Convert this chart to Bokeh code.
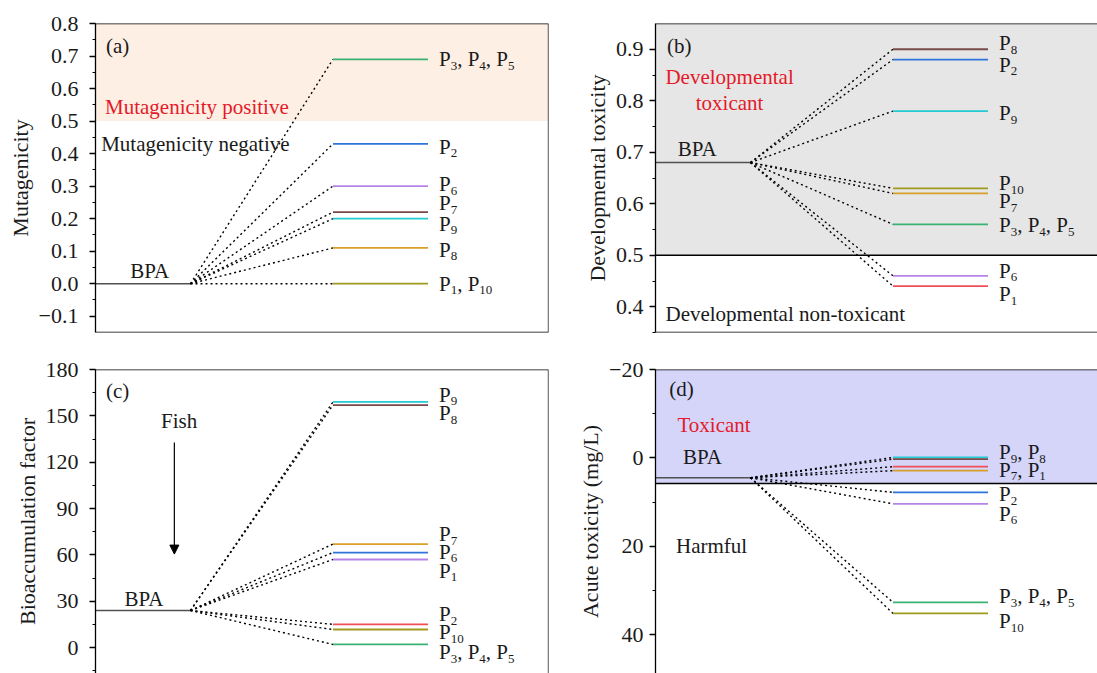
from bokeh.plotting import figure
from bokeh.layouts import column, row
from bokeh.models import (Range1d, SingleIntervalTicker, CustomJSTickFormatter,
                          Span, BoxAnnotation, Arrow, NormalHead)
from bokeh.core.properties import value
from bokeh.embed import file_html
from bokeh.resources import INLINE

FONT = "Liberation Serif"

GREEN = "#3bb273"
BLUE = "#2f74d8"
PURPLE = "#b684e8"
BROWN = "#7a4a48"
CYAN = "#22cbd4"
GOLD = "#d8a02a"
OLIVE = "#a09a1e"
RED = "#ef4f56"
TXT_RED = "#e41a2a"

# ---------------- (a) Mutagenicity ----------------
mut_bpa = 0.0
mut_products = ["P3, P4, P5", "P2", "P6", "P7", "P9", "P8", "P1, P10"]
mut_values = [0.69, 0.43, 0.30, 0.22, 0.20, 0.11, 0.00]
mut_colors = [GREEN, BLUE, PURPLE, BROWN, CYAN, GOLD, OLIVE]
mut_threshold = 0.5

# ---------------- (b) Developmental toxicity ----------------
dev_bpa = 0.68
dev_products = ["P8", "P2", "P9", "P10", "P7", "P3, P4, P5", "P6", "P1"]
dev_values = [0.90, 0.88, 0.78, 0.63, 0.62, 0.56, 0.46, 0.44]
dev_colors = [BROWN, BLUE, CYAN, OLIVE, GOLD, GREEN, PURPLE, RED]
dev_threshold = 0.5

# ---------------- (c) Bioaccumulation factor ----------------
bcf_bpa = 24.0
bcf_products = ["P9", "P8", "P7", "P6", "P1", "P2", "P10", "P3, P4, P5"]
bcf_values = [159, 157, 67, 61.5, 57, 15, 11.7, 2]
bcf_colors = [CYAN, BROWN, GOLD, BLUE, PURPLE, RED, OLIVE, GREEN]

# ---------------- (d) Acute toxicity ----------------
acute_bpa = 4.5
acute_products = ["P9", "P8", "P7", "P1", "P2", "P6", "P3, P4, P5", "P10"]
acute_values = [-0.1, 0.3, 2.0, 2.9, 7.8, 10.4, 32.7, 35.2]
acute_colors = [CYAN, BROWN, RED, GOLD, BLUE, PURPLE, GREEN, OLIVE]
acute_threshold = 5.8
acute_labels = ["P9, P8", "P7, P1", "P2", "P6", "P3, P4, P5", "P10"]
acute_label_of = [0, 2, 4, 5, 6, 7]   # which level each label sits beside

# layout constants (x positions of the level diagram, in diagram units)
BPA_X = (0.0, 1.0)
PROD_X = (2.5, 3.5)
PX_PER_X = 95.0
FS = 21          # annotation / label text size (px)
TICK_FS = 22     # tick label size (px)
TITLE_FS = 22    # axis title size (px)
SUB = 13         # subscript size (px)
SUB_DROP = 6.5   # subscript shift below the main text (px)
LABEL_GAP = 11   # px between level end and its label
EM = {"P": 0.556, ",": 0.25, " ": 0.25}


def minus_formatter(decimals):
    # typographic minus sign for negative tick values
    return CustomJSTickFormatter(code=f"""
        const s = Math.abs(tick).toFixed({decimals});
        return (tick < -1e-9 ? '\\u2212' : '') + s;
    """)


def pieces(label):
    out, buf, sub = [], "", False
    for ch in label:
        d = ch.isdigit()
        if buf and d != sub:
            out.append((buf, sub))
            buf = ""
        buf += ch
        sub = d
    out.append((buf, sub))
    return out


def make_panel(w, h, bl, bt, br, bb, y0, y1, interval, decimals, axis_title,
               label_standoff=5, title_standoff=3):
    fw = w - bl - br
    p = figure(width=w, height=h, title=None,
               x_range=Range1d(0, fw / PX_PER_X), y_range=Range1d(y0, y1),
               output_backend="svg", toolbar_location=None,
               x_axis_location=None, y_axis_location="left",
               min_border_left=bl, min_border_right=br,
               min_border_top=bt, min_border_bottom=bb,
               outline_line_color=None,
               background_fill_color="white", border_fill_color="white")
    p.grid.visible = False
    ax = p.yaxis[0]
    ax.ticker = SingleIntervalTicker(interval=interval, num_minor_ticks=2)
    ax.formatter = minus_formatter(decimals)
    ax.axis_label = axis_title
    ax.axis_label_text_font = FONT
    ax.axis_label_text_font_size = f"{TITLE_FS}px"
    ax.axis_label_text_font_style = "normal"
    ax.axis_label_text_color = "#1a1a1a"
    ax.axis_label_standoff = title_standoff
    ax.major_label_text_font = FONT
    ax.major_label_text_font_size = f"{TICK_FS}px"
    ax.major_label_text_color = "#1a1a1a"
    ax.major_label_standoff = label_standoff
    ax.axis_line_width = 1.3
    ax.major_tick_line_width = 1.3
    ax.minor_tick_line_width = 1.1
    ax.major_tick_out = 6
    ax.major_tick_in = 0
    ax.minor_tick_out = 3
    ax.minor_tick_in = 0
    return p


def border(p, loc, dim):
    p.add_layout(Span(location=loc, dimension=dim, line_color="black", line_width=1.3))


def draw_levels(p, bpa, values, colors, labels, label_of, nudges):
    n = len(values)
    p.segment(x0=[BPA_X[0]], y0=[bpa], x1=[BPA_X[1]], y1=[bpa],
              line_color="#505050", line_width=1.5)
    p.segment(x0=[BPA_X[1]] * n, y0=[bpa] * n, x1=[PROD_X[0]] * n, y1=values,
              line_color="black", line_dash="2 3", line_width=1.4)
    p.segment(x0=[PROD_X[0]] * n, y0=values, x1=[PROD_X[1]] * n, y1=values,
              line_color=colors, line_width=1.8)
    norm = dict(x=[], y=[], text=[], xo=[], yo=[])
    sub = dict(x=[], y=[], text=[], xo=[], yo=[])
    for lab, idx, nd in zip(labels, label_of, nudges):
        off = LABEL_GAP
        for s, is_sub in pieces(lab):
            size = SUB if is_sub else FS
            d = sub if is_sub else norm
            d["x"].append(PROD_X[1])
            d["y"].append(values[idx])
            d["text"].append(s)
            d["xo"].append(off)
            d["yo"].append(nd + (SUB_DROP if is_sub else 0))
            off += sum(0.5 if c.isdigit() else EM.get(c, 0.5) for c in s) * size
    for d, size in ((norm, FS), (sub, SUB)):
        p.text(x="x", y="y", text="text", x_offset="xo", y_offset="yo", source=d,
               text_font=value(FONT), text_font_size=f"{size}px",
               text_baseline="middle", text_align="left", text_color="#1a1a1a")


def note(p, x, y, txt, color="#1a1a1a", align="left"):
    p.text(x=[x], y=[y], text=[txt], text_font=value(FONT), text_font_size=f"{FS}px",
           text_baseline="middle", text_align=align, text_color=color)


# ---- (a)
pa = make_panel(560, 345, 95, 23, 12, 13, -0.15, 0.8, 0.1, 1, "Mutagenicity",
                label_standoff=11)
pa.add_layout(BoxAnnotation(bottom=mut_threshold, top=0.8, fill_color="#fdefe3",
                            fill_alpha=1, line_color=None, level="underlay"))
border(pa, 0.8, "width")
border(pa, -0.15, "width")
border(pa, pa.x_range.end, "height")
draw_levels(pa, mut_bpa, mut_values, mut_colors, mut_products,
            list(range(len(mut_values))), [0, 3, -2, -9, 5, 2, 0])
note(pa, 0.11, 0.731, "(a)")
note(pa, 0.10, 0.542, "Mutagenicity positive", TXT_RED)
note(pa, 0.06, 0.431, "Mutagenicity negative")
note(pa, 0.57, 0.038, "BPA", align="center")

# ---- (b)
pb = make_panel(537, 345, 95, 23, 0, 13, 0.35, 0.95, 0.1, 1, "Developmental toxicity",
                label_standoff=6)
pb.add_layout(BoxAnnotation(bottom=dev_threshold, top=0.95, fill_color="#e6e6e6",
                            fill_alpha=1, line_color=None, level="underlay"))
pb.add_layout(Span(location=dev_threshold, dimension="width", line_color="black",
                   line_width=1.5))
border(pb, 0.95, "width")
border(pb, 0.35, "width")
draw_levels(pb, dev_bpa, dev_values, dev_colors, dev_products,
            list(range(len(dev_values))), [-6, 5, 2, -5, 8, 1, -5, 8])
note(pb, 0.12, 0.906, "(b)")
note(pb, 0.78, 0.847, "Developmental", TXT_RED, "center")
note(pb, 0.78, 0.796, "toxicant", TXT_RED, "center")
note(pb, 0.44, 0.706, "BPA", align="center")
note(pb, 0.105, 0.385, "Developmental non-toxicant")

# ---- (c)
pc = make_panel(560, 328, 95, 24, 12, 0, -16.8, 180, 30, 0, "Bioaccumulation factor",
                label_standoff=11)
border(pc, 180, "width")
border(pc, pc.x_range.end, "height")
draw_levels(pc, bcf_bpa, bcf_values, bcf_colors, bcf_products,
            list(range(len(bcf_values))), [-7, 8, -10, -1, 11, -10, 3, 8])
note(pc, 0.11, 166, "(c)")
note(pc, 0.88, 146.8, "Fish", align="center")
pc.add_layout(Arrow(end=NormalHead(size=9, fill_color="black", line_color="black"),
                    x_start=0.83, y_start=132.7, x_end=0.83, y_end=60.5,
                    line_color="black", line_width=1.2))
note(pc, 0.51, 31.6, "BPA", align="center")

# ---- (d)
pd = make_panel(537, 328, 95, 24, 0, 0, 48.8, -20, 20, 0, "Acute toxicity (mg/L)",
                label_standoff=6)
pd.add_layout(BoxAnnotation(bottom=acute_threshold, top=-20, fill_color="#d5d5fa",
                            fill_alpha=1, line_color=None, level="underlay"))
pd.add_layout(Span(location=acute_threshold, dimension="width", line_color="black",
                   line_width=1.5))
border(pd, -20, "width")
draw_levels(pd, acute_bpa, acute_values, acute_colors, acute_labels,
            acute_label_of, [-5, 3, 2, 10, -6, 8])
note(pd, 0.145, -15.6, "(d)")
note(pd, 0.616, -7.5, "Toxicant", TXT_RED, "center")
note(pd, 0.495, -0.15, "BPA", align="center")
note(pd, 0.59, 20.0, "Harmful", align="center")

layout = column(row(pa, pb), row(pc, pd))
open("out.html", "w").write(file_html(layout, INLINE))
